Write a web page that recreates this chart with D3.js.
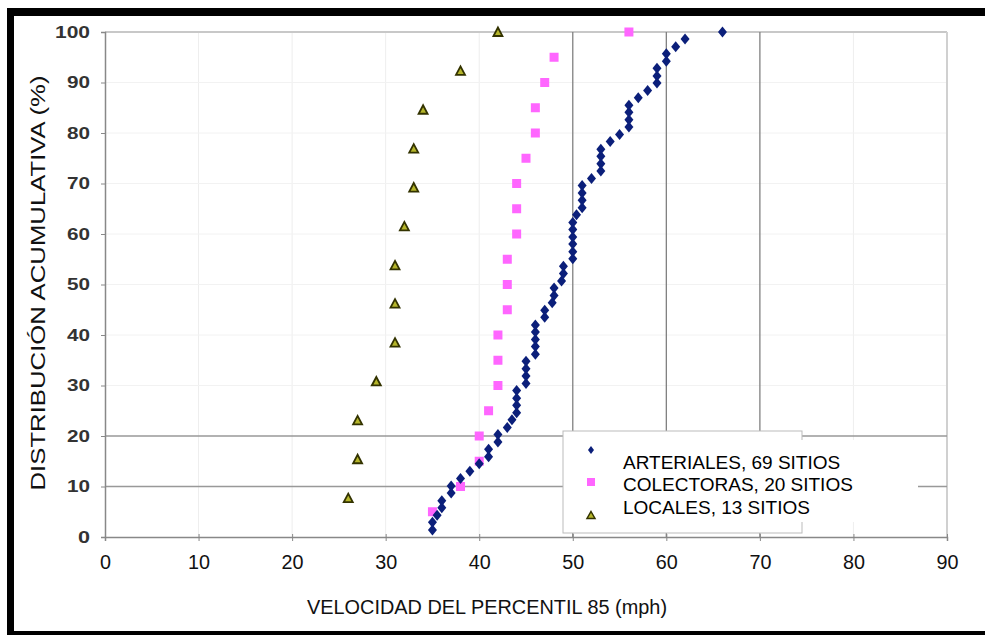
<!DOCTYPE html>
<html><head><meta charset="utf-8">
<script src="https://cdn.jsdelivr.net/npm/d3@7/dist/d3.min.js"></script>
<style>body{margin:0;background:#fff}svg{display:block}</style>
</head><body>
<svg id="c" width="985" height="635"></svg>
<script>
const xTicks = [0,10,20,30,40,50,60,70,80,90];
const yTicks = [0,10,20,30,40,50,60,70,80,90,100];
const strongX = [50,60,70];
const strongY = [10,20];

const arterialesSpeed = [35,35,35.5,36,36,37,37,38,39,40,41,41,42,42,43,43.5,44,44,44,44,45,45,45,45,46,46,46,46,46,47,47,47.8,48,48,48.8,49,49,50,50,50,50,50,50,50.4,51,51,51,51,52,53,53,53,53,54,55,56,56,56,56,57,58,59,59,59,60,60,61,62,66];
const arterialesPct = [1.4,2.9,4.3,5.8,7.2,8.7,10.1,11.6,13.0,14.5,15.9,17.4,18.8,20.3,21.7,23.2,24.6,26.1,27.5,29.0,30.4,31.9,33.3,34.8,36.2,37.7,39.1,40.6,42.0,43.5,44.9,46.4,47.8,49.3,50.7,52.2,53.6,55.1,56.5,58.0,59.4,60.9,62.3,63.8,65.2,66.7,68.1,69.6,71.0,72.5,73.9,75.4,76.8,78.3,79.7,81.2,82.6,84.1,85.5,87.0,88.4,89.9,91.3,92.8,94.2,95.7,97.1,98.6,100];
const colectorasSpeed = [35,38,40,40,41,42,42,42,43,43,43,44,44,44,45,46,46,47,48,56];
const colectorasPct = [5,10,15,20,25,30,35,40,45,50,55,60,65,70,75,80,85,90,95,100];
const localesSpeed = [26,27,27,29,31,31,31,32,33,33,34,38,42];
const localesPct = [7.7,15.4,23.1,30.8,38.5,46.2,53.8,61.5,69.2,76.9,84.6,92.3,100];
const legendLabels = ["ARTERIALES, 69 SITIOS","COLECTORAS, 20 SITIOS","LOCALES, 13 SITIOS"];

const svg = d3.select("#c");
const x = d3.scaleLinear().domain([0,90]).range([105,947]);
const y = d3.scaleLinear().domain([0,100]).range([537,32]);

// frame
svg.append("rect").attr("x",7).attr("y",8).attr("width",978).attr("height",8).attr("fill","#000");
svg.append("rect").attr("x",7).attr("y",8).attr("width",7).attr("height",627).attr("fill","#000");
svg.append("rect").attr("x",7).attr("y",631).attr("width",978).attr("height",4).attr("fill","#000");

// faint grid
const g = svg.append("g");
g.selectAll(".fx").data(xTicks.filter(d=>d>0 && !strongX.includes(d))).enter().append("line")
 .attr("x1",d=>x(d)).attr("x2",d=>x(d)).attr("y1",y(100)).attr("y2",y(0)).attr("stroke","#eeeeee").attr("stroke-width",1);
g.selectAll(".fy").data(yTicks.filter(d=>d>0 && d<100 && !strongY.includes(d))).enter().append("line")
 .attr("x1",x(0)).attr("x2",x(90)).attr("y1",d=>y(d)).attr("y2",d=>y(d)).attr("stroke","#f2f2f2").attr("stroke-width",1);
g.append("line").attr("x1",x(0)).attr("x2",x(90)).attr("y1",y(100)).attr("y2",y(100)).attr("stroke","#c8c8c8").attr("stroke-width",2);
g.append("line").attr("x1",x(90)).attr("x2",x(90)).attr("y1",y(100)).attr("y2",y(0)).attr("stroke","#d0d0d0").attr("stroke-width",2);
g.selectAll(".sy").data(strongY).enter().append("line")
 .attr("x1",x(0)).attr("x2",x(90)).attr("y1",d=>y(d)).attr("y2",d=>y(d)).attr("stroke","#999").attr("stroke-width",1.3);
g.selectAll(".sx").data(strongX).enter().append("line")
 .attr("x1",d=>x(d)).attr("x2",d=>x(d)).attr("y1",y(100)).attr("y2",y(0)).attr("stroke","#808080").attr("stroke-width",1.3);

// axes
const xAxis = svg.append("g").attr("transform",`translate(0,${y(0)})`)
 .call(d3.axisBottom(x).tickValues(xTicks).tickSize(4).tickPadding(14));
xAxis.select(".domain").attr("stroke","#888").attr("stroke-width",1.5);
xAxis.selectAll(".tick line").attr("stroke","#888").attr("y1",-3);
xAxis.selectAll("text").attr("font-family","'Liberation Sans',Arial,sans-serif").attr("font-size",20).attr("fill","#111")
 .attr("textLength",d=>d===0?11:22).attr("lengthAdjust","spacingAndGlyphs");

const yAxis = svg.append("g").attr("transform",`translate(${x(0)},0)`)
 .call(d3.axisLeft(y).tickValues(yTicks).tickSize(4).tickPadding(11));
yAxis.select(".domain").attr("stroke","#888").attr("stroke-width",1.5);
yAxis.selectAll(".tick line").attr("stroke","#888");
yAxis.selectAll("text").attr("font-family","'Liberation Sans',Arial,sans-serif").attr("font-size",16).attr("font-weight","bold").attr("fill","#333")
 .attr("textLength",d=>d===100?35:(d===0?12:23)).attr("lengthAdjust","spacingAndGlyphs");

// titles
svg.append("text").attr("x",487).attr("y",614).attr("text-anchor","middle")
 .attr("font-family","'Liberation Sans',Arial,sans-serif").attr("font-size",20).attr("fill","#111")
 .attr("textLength",360).attr("lengthAdjust","spacingAndGlyphs")
 .text("VELOCIDAD DEL PERCENTIL 85 (mph)");
svg.append("text").attr("transform","translate(45,283) rotate(-90)").attr("text-anchor","middle")
 .attr("font-family","'Liberation Sans',Arial,sans-serif").attr("font-size",21).attr("fill","#111")
 .attr("textLength",415).attr("lengthAdjust","spacingAndGlyphs")
 .text("DISTRIBUCIÓN ACUMULATIVA (%)");

// markers
const diamond = "M0,-5.5L4.5,0L0,5.5L-4.5,0Z";
const tri = "M0,-4.5L4.5,4L-4.5,4Z";
function sq(sel){ sel.attr("x",-4.5).attr("y",-4.5).attr("width",9).attr("height",9).attr("fill","#ff66ff"); }

svg.append("g").selectAll("path").data(localesSpeed.map((v,i)=>[v,localesPct[i]])).enter().append("path")
 .attr("d",tri).attr("transform",d=>`translate(${x(d[0])},${y(d[1])})`)
 .attr("fill","#b5b52a").attr("stroke","#333300").attr("stroke-width",1.8);
svg.append("g").selectAll("rect").data(colectorasSpeed.map((v,i)=>[v,colectorasPct[i]])).enter().append("rect")
 .call(sq).attr("transform",d=>`translate(${x(d[0])},${y(d[1])})`);
svg.append("g").selectAll("path").data(arterialesSpeed.map((v,i)=>[v,arterialesPct[i]])).enter().append("path")
 .attr("d",diamond).attr("transform",d=>`translate(${x(d[0])},${y(d[1])})`)
 .attr("fill","#0b1f7a");

// legend
const lg = svg.append("g");
lg.append("rect").attr("x",563).attr("y",431).attr("width",239).attr("height",102).attr("fill","#fff").attr("stroke","#bbb").attr("stroke-width",1);
lg.append("rect").attr("x",616).attr("y",440).attr("width",302).attr("height",82).attr("fill","#fff");
const ly = [450,482,515];
lg.append("path").attr("d","M0,-4L3,0L0,4L-3,0Z").attr("transform",`translate(591,${ly[0]})`).attr("fill","#0b1f7a");
lg.append("rect").attr("x",587).attr("y",ly[1]-4).attr("width",8).attr("height",8).attr("fill","#ff66ff");
lg.append("path").attr("d","M0,-3.5L4,3.5L-4,3.5Z").attr("transform",`translate(591,${ly[2]})`).attr("fill","#b5b52a").attr("stroke","#333300").attr("stroke-width",1.5);
lg.selectAll("text").data(legendLabels).enter().append("text")
 .attr("x",623).attr("y",(d,i)=>[469,491,514][i])
 .attr("font-family","'Liberation Sans',Arial,sans-serif").attr("font-size",19).attr("fill","#000").text(d=>d);
</script>
</body></html>
